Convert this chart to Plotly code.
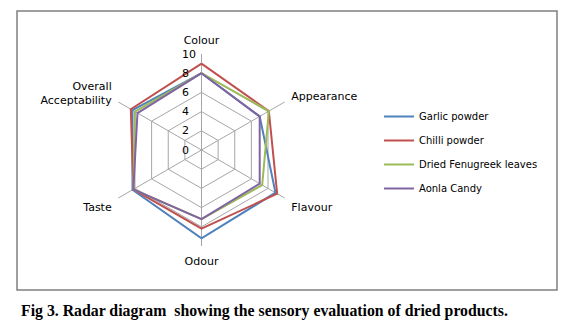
import plotly.graph_objects as go

categories = ["Colour", "Appearance", "Flavour", "Odour", "Taste", "Overall<br>Acceptability"]
series_names = ["Garlic powder", "Chilli powder", "Dried Fenugreek leaves", "Aonla Candy"]
garlic = [8.0, 7.0, 8.9, 9.2, 8.3, 8.3]
chilli = [9.0, 8.1, 9.1, 8.2, 8.2, 8.5]
fenugreek = [8.0, 8.1, 7.3, 7.2, 8.2, 8.0]
aonla = [8.0, 7.0, 7.0, 7.2, 8.2, 7.7]
colors = ["#4F81BD", "#C0504D", "#9BBB59", "#8064A2"]
radial_ticks = [0, 2, 4, 6, 8, 10]

W, H = 570, 334
fig = go.Figure()
for name, vals, col in zip(series_names, [garlic, chilli, fenugreek, aonla], colors):
    fig.add_trace(go.Scatterpolar(
        r=vals + vals[:1], theta=categories + categories[:1],
        mode="lines", name=name, line=dict(color=col, width=2),
        legendgroup=name,
    ))
# helper subplot that only carries the radial tick labels (offset to the left of the spoke)
fig.add_trace(go.Scatterpolar(r=[], theta=[], subplot="polar2", showlegend=False, hoverinfo="skip"))

cx, cy, R = 201.5, 150, 96
shift = 20
ydom = [(H - cy - R) / H, (H - cy + R) / H]
fig.update_layout(
    width=W, height=H,
    margin=dict(l=0, r=0, t=0, b=0),
    paper_bgcolor="white",
    font=dict(family="DejaVu Sans", size=10, color="black"),
    polar=dict(
        domain=dict(x=[(cx - R) / W, (cx + R) / W], y=ydom),
        gridshape="linear",
        bgcolor="white",
        angularaxis=dict(direction="clockwise", rotation=90, showline=False,
                         gridcolor="#A6A6A6", gridwidth=1,
                         ticks="outside", ticklen=5, tickcolor="rgba(0,0,0,0)",
                         tickfont=dict(family="DejaVu Sans", size=11)),
        radialaxis=dict(range=[0, 10], tickvals=radial_ticks, angle=90,
                        showticklabels=False, showline=False, ticks="",
                        gridcolor="#A6A6A6", gridwidth=1),
    ),
    polar2=dict(
        domain=dict(x=[(cx - shift - R) / W, (cx - shift + R) / W], y=ydom),
        gridshape="linear",
        bgcolor="rgba(0,0,0,0)",
        angularaxis=dict(visible=False, direction="clockwise", rotation=90),
        radialaxis=dict(range=[0, 10], tickvals=radial_ticks, angle=90, tickangle=90,
                        side="clockwise", showline=False, showgrid=False, ticks="",
                        tickfont=dict(family="DejaVu Sans", size=11)),
    ),
    legend=dict(x=379 / W, y=1 - 102 / H, xanchor="left", yanchor="top",
                font=dict(family="DejaVu Sans", size=10), tracegroupgap=5,
                bgcolor="rgba(0,0,0,0)"),
    shapes=[dict(type="rect", xref="paper", yref="paper",
                 x0=17 / W, x1=557 / W, y0=1 - 290 / H, y1=1 - 11 / H,
                 line=dict(color="#808080", width=1.5))],
    annotations=[dict(text="<b>Fig 3. Radar diagram  showing the sensory evaluation of dried products.</b>",
                      xref="paper", yref="paper", x=19 / W, y=1 - 311 / H,
                      xanchor="left", yanchor="middle", showarrow=False,
                      font=dict(family="Liberation Serif", size=15.8, color="black"))],
)
fig.write_html("out.html")
